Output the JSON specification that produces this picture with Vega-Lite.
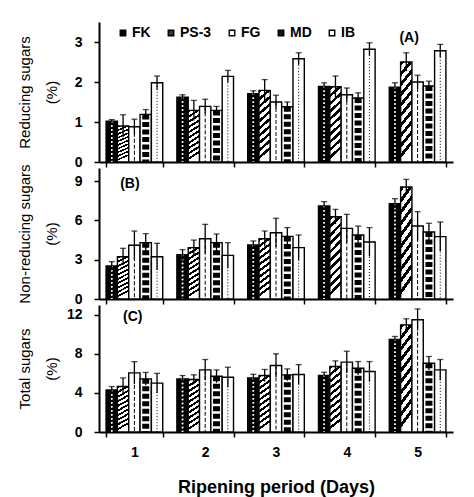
{
  "$schema": "https://vega.github.io/schema/vega-lite/v6.json",
  "padding": {"left": 17, "top": 22, "right": 5, "bottom": 5},
  "bounds": "flush",
  "spacing": 6,
  "config": {
    "view": {"stroke": null},
    "font": "Liberation Sans",
    "axis": {"grid": false, "domainColor": "black", "tickColor": "black", "labelColor": "black", "titleColor": "black", "labelFont": "Liberation Sans", "titleFont": "Liberation Sans", "labelFontWeight": "bold", "labelFontSize": 14, "domainWidth": 2, "tickWidth": 1.5, "tickSize": 5},
    "axisY": {"labelPadding": 12, "titleFontSize": 15, "titleFontWeight": "normal", "titleLineHeight": 27, "titleX": -67},
    "bar": {"stroke": "black", "strokeWidth": 1.4}
  },
  "datasets": {
    "sugars": [
      {"panel": "A", "day": "1", "series": "FK", "value": 1.02, "lo": 0.98, "hi": 1.06},
      {"panel": "A", "day": "1", "series": "PS-3", "value": 0.90, "lo": 0.62, "hi": 1.18},
      {"panel": "A", "day": "1", "series": "FG", "value": 0.88, "lo": 0.69, "hi": 1.07},
      {"panel": "A", "day": "1", "series": "MD", "value": 1.19, "lo": 1.07, "hi": 1.31},
      {"panel": "A", "day": "1", "series": "IB", "value": 1.98, "lo": 1.81, "hi": 2.15},
      {"panel": "A", "day": "2", "series": "FK", "value": 1.62, "lo": 1.56, "hi": 1.68},
      {"panel": "A", "day": "2", "series": "PS-3", "value": 1.29, "lo": 1.04, "hi": 1.54},
      {"panel": "A", "day": "2", "series": "FG", "value": 1.39, "lo": 1.21, "hi": 1.57},
      {"panel": "A", "day": "2", "series": "MD", "value": 1.29, "lo": 1.19, "hi": 1.39},
      {"panel": "A", "day": "2", "series": "IB", "value": 2.14, "lo": 1.99, "hi": 2.29},
      {"panel": "A", "day": "3", "series": "FK", "value": 1.71, "lo": 1.64, "hi": 1.78},
      {"panel": "A", "day": "3", "series": "PS-3", "value": 1.79, "lo": 1.52, "hi": 2.06},
      {"panel": "A", "day": "3", "series": "FG", "value": 1.50, "lo": 1.33, "hi": 1.67},
      {"panel": "A", "day": "3", "series": "MD", "value": 1.38, "lo": 1.26, "hi": 1.50},
      {"panel": "A", "day": "3", "series": "IB", "value": 2.58, "lo": 2.43, "hi": 2.73},
      {"panel": "A", "day": "4", "series": "FK", "value": 1.89, "lo": 1.80, "hi": 1.98},
      {"panel": "A", "day": "4", "series": "PS-3", "value": 1.88, "lo": 1.61, "hi": 2.15},
      {"panel": "A", "day": "4", "series": "FG", "value": 1.68, "lo": 1.51, "hi": 1.85},
      {"panel": "A", "day": "4", "series": "MD", "value": 1.60, "lo": 1.47, "hi": 1.73},
      {"panel": "A", "day": "4", "series": "IB", "value": 2.82, "lo": 2.66, "hi": 2.98},
      {"panel": "A", "day": "5", "series": "FK", "value": 1.87, "lo": 1.76, "hi": 1.98},
      {"panel": "A", "day": "5", "series": "PS-3", "value": 2.50, "lo": 2.27, "hi": 2.73},
      {"panel": "A", "day": "5", "series": "FG", "value": 2.00, "lo": 1.83, "hi": 2.17},
      {"panel": "A", "day": "5", "series": "MD", "value": 1.90, "lo": 1.78, "hi": 2.02},
      {"panel": "A", "day": "5", "series": "IB", "value": 2.78, "lo": 2.62, "hi": 2.94},
      {"panel": "B", "day": "1", "series": "FK", "value": 2.52, "lo": 2.19, "hi": 2.85},
      {"panel": "B", "day": "1", "series": "PS-3", "value": 3.23, "lo": 2.59, "hi": 3.87},
      {"panel": "B", "day": "1", "series": "FG", "value": 4.10, "lo": 3.01, "hi": 5.19},
      {"panel": "B", "day": "1", "series": "MD", "value": 4.30, "lo": 3.61, "hi": 4.99},
      {"panel": "B", "day": "1", "series": "IB", "value": 3.23, "lo": 2.21, "hi": 4.25},
      {"panel": "B", "day": "2", "series": "FK", "value": 3.38, "lo": 2.99, "hi": 3.77},
      {"panel": "B", "day": "2", "series": "PS-3", "value": 3.92, "lo": 3.34, "hi": 4.50},
      {"panel": "B", "day": "2", "series": "FG", "value": 4.60, "lo": 3.50, "hi": 5.70},
      {"panel": "B", "day": "2", "series": "MD", "value": 4.30, "lo": 3.64, "hi": 4.96},
      {"panel": "B", "day": "2", "series": "IB", "value": 3.33, "lo": 2.36, "hi": 4.30},
      {"panel": "B", "day": "3", "series": "FK", "value": 4.12, "lo": 3.81, "hi": 4.43},
      {"panel": "B", "day": "3", "series": "PS-3", "value": 4.60, "lo": 4.01, "hi": 5.19},
      {"panel": "B", "day": "3", "series": "FG", "value": 5.06, "lo": 3.96, "hi": 6.16},
      {"panel": "B", "day": "3", "series": "MD", "value": 4.78, "lo": 4.11, "hi": 5.45},
      {"panel": "B", "day": "3", "series": "IB", "value": 3.92, "lo": 2.95, "hi": 4.89},
      {"panel": "B", "day": "4", "series": "FK", "value": 7.10, "lo": 6.77, "hi": 7.43},
      {"panel": "B", "day": "4", "series": "PS-3", "value": 6.28, "lo": 5.72, "hi": 6.84},
      {"panel": "B", "day": "4", "series": "FG", "value": 5.39, "lo": 4.32, "hi": 6.46},
      {"panel": "B", "day": "4", "series": "MD", "value": 4.89, "lo": 4.21, "hi": 5.57},
      {"panel": "B", "day": "4", "series": "IB", "value": 4.35, "lo": 3.25, "hi": 5.45},
      {"panel": "B", "day": "5", "series": "FK", "value": 7.28, "lo": 6.90, "hi": 7.66},
      {"panel": "B", "day": "5", "series": "PS-3", "value": 8.55, "lo": 7.97, "hi": 9.13},
      {"panel": "B", "day": "5", "series": "FG", "value": 5.57, "lo": 4.47, "hi": 6.67},
      {"panel": "B", "day": "5", "series": "MD", "value": 5.11, "lo": 4.44, "hi": 5.78},
      {"panel": "B", "day": "5", "series": "IB", "value": 4.76, "lo": 3.64, "hi": 5.88},
      {"panel": "C", "day": "1", "series": "FK", "value": 4.30, "lo": 3.95, "hi": 4.65},
      {"panel": "C", "day": "1", "series": "PS-3", "value": 4.65, "lo": 3.76, "hi": 5.54},
      {"panel": "C", "day": "1", "series": "FG", "value": 6.05, "lo": 4.90, "hi": 7.20},
      {"panel": "C", "day": "1", "series": "MD", "value": 5.44, "lo": 4.78, "hi": 6.10},
      {"panel": "C", "day": "1", "series": "IB", "value": 5.00, "lo": 4.00, "hi": 6.00},
      {"panel": "C", "day": "2", "series": "FK", "value": 5.44, "lo": 5.10, "hi": 5.78},
      {"panel": "C", "day": "2", "series": "PS-3", "value": 5.37, "lo": 4.89, "hi": 5.85},
      {"panel": "C", "day": "2", "series": "FG", "value": 6.36, "lo": 5.30, "hi": 7.42},
      {"panel": "C", "day": "2", "series": "MD", "value": 5.70, "lo": 5.04, "hi": 6.36},
      {"panel": "C", "day": "2", "series": "IB", "value": 5.60, "lo": 4.57, "hi": 6.63},
      {"panel": "C", "day": "3", "series": "FK", "value": 5.54, "lo": 5.17, "hi": 5.91},
      {"panel": "C", "day": "3", "series": "PS-3", "value": 5.78, "lo": 5.16, "hi": 6.40},
      {"panel": "C", "day": "3", "series": "FG", "value": 6.80, "lo": 5.60, "hi": 8.00},
      {"panel": "C", "day": "3", "series": "MD", "value": 5.85, "lo": 5.24, "hi": 6.46},
      {"panel": "C", "day": "3", "series": "IB", "value": 5.88, "lo": 4.86, "hi": 6.90},
      {"panel": "C", "day": "4", "series": "FK", "value": 5.78, "lo": 5.44, "hi": 6.12},
      {"panel": "C", "day": "4", "series": "PS-3", "value": 6.70, "lo": 6.12, "hi": 7.28},
      {"panel": "C", "day": "4", "series": "FG", "value": 7.15, "lo": 6.03, "hi": 8.27},
      {"panel": "C", "day": "4", "series": "MD", "value": 6.53, "lo": 5.85, "hi": 7.21},
      {"panel": "C", "day": "4", "series": "IB", "value": 6.19, "lo": 5.17, "hi": 7.21},
      {"panel": "C", "day": "5", "series": "FK", "value": 9.47, "lo": 9.16, "hi": 9.78},
      {"panel": "C", "day": "5", "series": "PS-3", "value": 10.97, "lo": 10.35, "hi": 11.59},
      {"panel": "C", "day": "5", "series": "FG", "value": 11.49, "lo": 10.38, "hi": 12.60},
      {"panel": "C", "day": "5", "series": "MD", "value": 7.04, "lo": 6.35, "hi": 7.73},
      {"panel": "C", "day": "5", "series": "IB", "value": 6.36, "lo": 5.30, "hi": 7.42}
    ]
  },
  "resolve": {"scale": {"fill": "independent", "y": "independent"}, "legend": {"fill": "independent"}},
  "vconcat": [
    {
      "width": 354, "height": 140,
      "transform": [{"filter": "datum.panel === 'A'"}],
      "data": {"name": "sugars"},
      "encoding": {
        "x": {"field": "day", "type": "nominal", "scale": {"paddingInner": 0.2, "paddingOuter": 0.1}, "axis": {"title": null, "labels": false, "tickBand": "extent"}},
        "xOffset": {"field": "series", "type": "nominal", "sort": ["FK", "PS-3", "FG", "MD", "IB"]}
      },
      "layer": [
        {
          "mark": {"type": "bar"},
          "encoding": {
            "y": {"field": "value", "type": "quantitative", "scale": {"domain": [0, 3.5], "nice": false}, "axis": {"values": [0, 1, 2, 3], "title": ["Reducing sugars", "(%)"], "titleY": 70}},
            "fill": {
              "condition": [
                {"test": "datum.series === 'PS-3'", "value": {"gradient": "linear", "x1": 0, "y1": 0, "x2": 0.14, "y2": 1, "stops": [{"offset": 0, "color": "#000"}, {"offset": 0.045, "color": "#000"}, {"offset": 0.045, "color": "#fff"}, {"offset": 0.1, "color": "#fff"}, {"offset": 0.1, "color": "#000"}, {"offset": 0.145, "color": "#000"}, {"offset": 0.145, "color": "#fff"}, {"offset": 0.2, "color": "#fff"}, {"offset": 0.2, "color": "#000"}, {"offset": 0.245, "color": "#000"}, {"offset": 0.245, "color": "#fff"}, {"offset": 0.3, "color": "#fff"}, {"offset": 0.3, "color": "#000"}, {"offset": 0.345, "color": "#000"}, {"offset": 0.345, "color": "#fff"}, {"offset": 0.4, "color": "#fff"}, {"offset": 0.4, "color": "#000"}, {"offset": 0.445, "color": "#000"}, {"offset": 0.445, "color": "#fff"}, {"offset": 0.5, "color": "#fff"}, {"offset": 0.5, "color": "#000"}, {"offset": 0.545, "color": "#000"}, {"offset": 0.545, "color": "#fff"}, {"offset": 0.6, "color": "#fff"}, {"offset": 0.6, "color": "#000"}, {"offset": 0.645, "color": "#000"}, {"offset": 0.645, "color": "#fff"}, {"offset": 0.7, "color": "#fff"}, {"offset": 0.7, "color": "#000"}, {"offset": 0.745, "color": "#000"}, {"offset": 0.745, "color": "#fff"}, {"offset": 0.8, "color": "#fff"}, {"offset": 0.8, "color": "#000"}, {"offset": 0.845, "color": "#000"}, {"offset": 0.845, "color": "#fff"}, {"offset": 0.9, "color": "#fff"}, {"offset": 0.9, "color": "#000"}, {"offset": 0.945, "color": "#000"}, {"offset": 0.945, "color": "#fff"}, {"offset": 1, "color": "#fff"}]}},
                {"test": "datum.series === 'MD'", "value": "#ffffff"}
              ],
              "field": "series", "type": "nominal",
              "scale": {"domain": ["FK", "PS-3", "FG", "MD", "IB"], "range": ["#000", "#333", "#fff", "#111", "#fff"]},
              "legend": {"title": null, "orient": "none", "legendX": 17, "legendY": 4, "direction": "horizontal", "symbolType": "square", "symbolSize": 30, "symbolStrokeColor": "black", "symbolStrokeWidth": 1.5, "labelFont": "Liberation Sans", "labelFontWeight": "bold", "labelFontSize": 14, "labelColor": "black", "labelOffset": 2, "columnPadding": 13, "padding": 0}
            }
          }
        },
        {
          "transform": [{"filter": "datum.series === 'FK'"}],
          "mark": {"type": "rule", "color": "#fff", "strokeWidth": 1.5, "strokeDash": [1.5, 2.5], "xOffset": -2.5},
          "encoding": {"y": {"field": "value", "type": "quantitative"}, "y2": {"datum": 0}}
        },
        {
          "transform": [{"filter": "datum.series === 'FK'"}],
          "mark": {"type": "rule", "color": "#fff", "strokeWidth": 1.5, "strokeDash": [1.5, 2.5], "xOffset": 2.5},
          "encoding": {"y": {"field": "value", "type": "quantitative"}, "y2": {"datum": 0}}
        },
        {
          "transform": [{"filter": "datum.series === 'FG'"}],
          "mark": {"type": "rule", "color": "#000", "strokeWidth": 1, "strokeDash": [4, 2]},
          "encoding": {"y": {"field": "value", "type": "quantitative"}, "y2": {"datum": 0}}
        },
        {
          "transform": [{"filter": "datum.series === 'MD'"}],
          "mark": {"type": "rule", "color": "#000", "strokeWidth": 7, "strokeDash": [5, 2.5]},
          "encoding": {"y": {"field": "value", "type": "quantitative"}, "y2": {"datum": 0}}
        },
        {
          "transform": [{"filter": "datum.series === 'IB'"}],
          "mark": {"type": "rule", "color": "#000", "strokeWidth": 1, "strokeDash": [1, 2]},
          "encoding": {"y": {"field": "value", "type": "quantitative"}, "y2": {"datum": 0}}
        },
        {
          "mark": {"type": "rule", "color": "black", "strokeWidth": 1.3},
          "encoding": {"y": {"field": "lo", "type": "quantitative"}, "y2": {"field": "hi"}}
        },
        {
          "mark": {"type": "tick", "color": "black", "thickness": 1.3, "size": 6},
          "encoding": {"y": {"field": "hi", "type": "quantitative"}}
        },
        {
          "data": {"values": [{}]},
          "mark": {"type": "text", "text": "(A)", "font": "Liberation Sans", "fontWeight": "bold", "fontSize": 14, "color": "black"},
          "encoding": {"x": {"datum": "5", "bandPosition": 0.35}, "xOffset": null, "y": {"datum": 3.11}}
        }
      ]
    },
    {
      "width": 354, "height": 131,
      "transform": [{"filter": "datum.panel === 'B'"}],
      "data": {"name": "sugars"},
      "encoding": {
        "x": {"field": "day", "type": "nominal", "scale": {"paddingInner": 0.2, "paddingOuter": 0.1}, "axis": {"title": null, "labels": false, "tickBand": "extent"}},
        "xOffset": {"field": "series", "type": "nominal", "sort": ["FK", "PS-3", "FG", "MD", "IB"]}
      },
      "layer": [
        {
          "mark": {"type": "bar"},
          "encoding": {
            "y": {"field": "value", "type": "quantitative", "scale": {"domain": [0, 10], "nice": false}, "axis": {"values": [0, 3, 6, 9], "title": ["Non-reducing sugars", "(%)"], "titleY": 65.5}},
            "fill": {
              "condition": [
                {"test": "datum.series === 'PS-3'", "value": {"gradient": "linear", "x1": 0, "y1": 0, "x2": 0.14, "y2": 1, "stops": [{"offset": 0, "color": "#000"}, {"offset": 0.045, "color": "#000"}, {"offset": 0.045, "color": "#fff"}, {"offset": 0.1, "color": "#fff"}, {"offset": 0.1, "color": "#000"}, {"offset": 0.145, "color": "#000"}, {"offset": 0.145, "color": "#fff"}, {"offset": 0.2, "color": "#fff"}, {"offset": 0.2, "color": "#000"}, {"offset": 0.245, "color": "#000"}, {"offset": 0.245, "color": "#fff"}, {"offset": 0.3, "color": "#fff"}, {"offset": 0.3, "color": "#000"}, {"offset": 0.345, "color": "#000"}, {"offset": 0.345, "color": "#fff"}, {"offset": 0.4, "color": "#fff"}, {"offset": 0.4, "color": "#000"}, {"offset": 0.445, "color": "#000"}, {"offset": 0.445, "color": "#fff"}, {"offset": 0.5, "color": "#fff"}, {"offset": 0.5, "color": "#000"}, {"offset": 0.545, "color": "#000"}, {"offset": 0.545, "color": "#fff"}, {"offset": 0.6, "color": "#fff"}, {"offset": 0.6, "color": "#000"}, {"offset": 0.645, "color": "#000"}, {"offset": 0.645, "color": "#fff"}, {"offset": 0.7, "color": "#fff"}, {"offset": 0.7, "color": "#000"}, {"offset": 0.745, "color": "#000"}, {"offset": 0.745, "color": "#fff"}, {"offset": 0.8, "color": "#fff"}, {"offset": 0.8, "color": "#000"}, {"offset": 0.845, "color": "#000"}, {"offset": 0.845, "color": "#fff"}, {"offset": 0.9, "color": "#fff"}, {"offset": 0.9, "color": "#000"}, {"offset": 0.945, "color": "#000"}, {"offset": 0.945, "color": "#fff"}, {"offset": 1, "color": "#fff"}]}},
                {"test": "datum.series === 'MD'", "value": "#ffffff"}
              ],
              "field": "series", "type": "nominal",
              "scale": {"domain": ["FK", "PS-3", "FG", "MD", "IB"], "range": ["#000", "#333", "#fff", "#111", "#fff"]},
              "legend": null
            }
          }
        },
        {
          "transform": [{"filter": "datum.series === 'FK'"}],
          "mark": {"type": "rule", "color": "#fff", "strokeWidth": 1.5, "strokeDash": [1.5, 2.5], "xOffset": -2.5},
          "encoding": {"y": {"field": "value", "type": "quantitative"}, "y2": {"datum": 0}}
        },
        {
          "transform": [{"filter": "datum.series === 'FK'"}],
          "mark": {"type": "rule", "color": "#fff", "strokeWidth": 1.5, "strokeDash": [1.5, 2.5], "xOffset": 2.5},
          "encoding": {"y": {"field": "value", "type": "quantitative"}, "y2": {"datum": 0}}
        },
        {
          "transform": [{"filter": "datum.series === 'FG'"}],
          "mark": {"type": "rule", "color": "#000", "strokeWidth": 1, "strokeDash": [4, 2]},
          "encoding": {"y": {"field": "value", "type": "quantitative"}, "y2": {"datum": 0}}
        },
        {
          "transform": [{"filter": "datum.series === 'MD'"}],
          "mark": {"type": "rule", "color": "#000", "strokeWidth": 7, "strokeDash": [5, 2.5]},
          "encoding": {"y": {"field": "value", "type": "quantitative"}, "y2": {"datum": 0}}
        },
        {
          "transform": [{"filter": "datum.series === 'IB'"}],
          "mark": {"type": "rule", "color": "#000", "strokeWidth": 1, "strokeDash": [1, 2]},
          "encoding": {"y": {"field": "value", "type": "quantitative"}, "y2": {"datum": 0}}
        },
        {
          "mark": {"type": "rule", "color": "black", "strokeWidth": 1.3},
          "encoding": {"y": {"field": "lo", "type": "quantitative"}, "y2": {"field": "hi"}}
        },
        {
          "mark": {"type": "tick", "color": "black", "thickness": 1.3, "size": 6},
          "encoding": {"y": {"field": "hi", "type": "quantitative"}}
        },
        {
          "data": {"values": [{}]},
          "mark": {"type": "text", "text": "(B)", "font": "Liberation Sans", "fontWeight": "bold", "fontSize": 14, "color": "black"},
          "encoding": {"x": {"datum": "1", "bandPosition": 0.42}, "xOffset": null, "y": {"datum": 8.8}}
        }
      ]
    },
    {
      "width": 354, "height": 127,
      "transform": [{"filter": "datum.panel === 'C'"}],
      "data": {"name": "sugars"},
      "encoding": {
        "x": {"field": "day", "type": "nominal", "scale": {"paddingInner": 0.2, "paddingOuter": 0.1}, "axis": {"title": "Ripening period (Days)", "tickBand": "extent", "labelAngle": 0, "labelPadding": 8, "titleFontSize": 18, "titleFontWeight": "bold", "titlePadding": 19}},
        "xOffset": {"field": "series", "type": "nominal", "sort": ["FK", "PS-3", "FG", "MD", "IB"]}
      },
      "layer": [
        {
          "mark": {"type": "bar"},
          "encoding": {
            "y": {"field": "value", "type": "quantitative", "scale": {"domain": [0, 13], "nice": false}, "axis": {"values": [0, 4, 8, 12], "title": ["Total sugars", "(%)"], "titleY": 63.5}},
            "fill": {
              "condition": [
                {"test": "datum.series === 'PS-3'", "value": {"gradient": "linear", "x1": 0, "y1": 0, "x2": 0.14, "y2": 1, "stops": [{"offset": 0, "color": "#000"}, {"offset": 0.045, "color": "#000"}, {"offset": 0.045, "color": "#fff"}, {"offset": 0.1, "color": "#fff"}, {"offset": 0.1, "color": "#000"}, {"offset": 0.145, "color": "#000"}, {"offset": 0.145, "color": "#fff"}, {"offset": 0.2, "color": "#fff"}, {"offset": 0.2, "color": "#000"}, {"offset": 0.245, "color": "#000"}, {"offset": 0.245, "color": "#fff"}, {"offset": 0.3, "color": "#fff"}, {"offset": 0.3, "color": "#000"}, {"offset": 0.345, "color": "#000"}, {"offset": 0.345, "color": "#fff"}, {"offset": 0.4, "color": "#fff"}, {"offset": 0.4, "color": "#000"}, {"offset": 0.445, "color": "#000"}, {"offset": 0.445, "color": "#fff"}, {"offset": 0.5, "color": "#fff"}, {"offset": 0.5, "color": "#000"}, {"offset": 0.545, "color": "#000"}, {"offset": 0.545, "color": "#fff"}, {"offset": 0.6, "color": "#fff"}, {"offset": 0.6, "color": "#000"}, {"offset": 0.645, "color": "#000"}, {"offset": 0.645, "color": "#fff"}, {"offset": 0.7, "color": "#fff"}, {"offset": 0.7, "color": "#000"}, {"offset": 0.745, "color": "#000"}, {"offset": 0.745, "color": "#fff"}, {"offset": 0.8, "color": "#fff"}, {"offset": 0.8, "color": "#000"}, {"offset": 0.845, "color": "#000"}, {"offset": 0.845, "color": "#fff"}, {"offset": 0.9, "color": "#fff"}, {"offset": 0.9, "color": "#000"}, {"offset": 0.945, "color": "#000"}, {"offset": 0.945, "color": "#fff"}, {"offset": 1, "color": "#fff"}]}},
                {"test": "datum.series === 'MD'", "value": "#ffffff"}
              ],
              "field": "series", "type": "nominal",
              "scale": {"domain": ["FK", "PS-3", "FG", "MD", "IB"], "range": ["#000", "#333", "#fff", "#111", "#fff"]},
              "legend": null
            }
          }
        },
        {
          "transform": [{"filter": "datum.series === 'FK'"}],
          "mark": {"type": "rule", "color": "#fff", "strokeWidth": 1.5, "strokeDash": [1.5, 2.5], "xOffset": -2.5},
          "encoding": {"y": {"field": "value", "type": "quantitative"}, "y2": {"datum": 0}}
        },
        {
          "transform": [{"filter": "datum.series === 'FK'"}],
          "mark": {"type": "rule", "color": "#fff", "strokeWidth": 1.5, "strokeDash": [1.5, 2.5], "xOffset": 2.5},
          "encoding": {"y": {"field": "value", "type": "quantitative"}, "y2": {"datum": 0}}
        },
        {
          "transform": [{"filter": "datum.series === 'FG'"}],
          "mark": {"type": "rule", "color": "#000", "strokeWidth": 1, "strokeDash": [4, 2]},
          "encoding": {"y": {"field": "value", "type": "quantitative"}, "y2": {"datum": 0}}
        },
        {
          "transform": [{"filter": "datum.series === 'MD'"}],
          "mark": {"type": "rule", "color": "#000", "strokeWidth": 7, "strokeDash": [5, 2.5]},
          "encoding": {"y": {"field": "value", "type": "quantitative"}, "y2": {"datum": 0}}
        },
        {
          "transform": [{"filter": "datum.series === 'IB'"}],
          "mark": {"type": "rule", "color": "#000", "strokeWidth": 1, "strokeDash": [1, 2]},
          "encoding": {"y": {"field": "value", "type": "quantitative"}, "y2": {"datum": 0}}
        },
        {
          "mark": {"type": "rule", "color": "black", "strokeWidth": 1.3},
          "encoding": {"y": {"field": "lo", "type": "quantitative"}, "y2": {"field": "hi"}}
        },
        {
          "mark": {"type": "tick", "color": "black", "thickness": 1.3, "size": 6},
          "encoding": {"y": {"field": "hi", "type": "quantitative"}}
        },
        {
          "data": {"values": [{}]},
          "mark": {"type": "text", "text": "(C)", "font": "Liberation Sans", "fontWeight": "bold", "fontSize": 14, "color": "black"},
          "encoding": {"x": {"datum": "1", "bandPosition": 0.47}, "xOffset": null, "y": {"datum": 11.8}}
        }
      ]
    }
  ]
}
